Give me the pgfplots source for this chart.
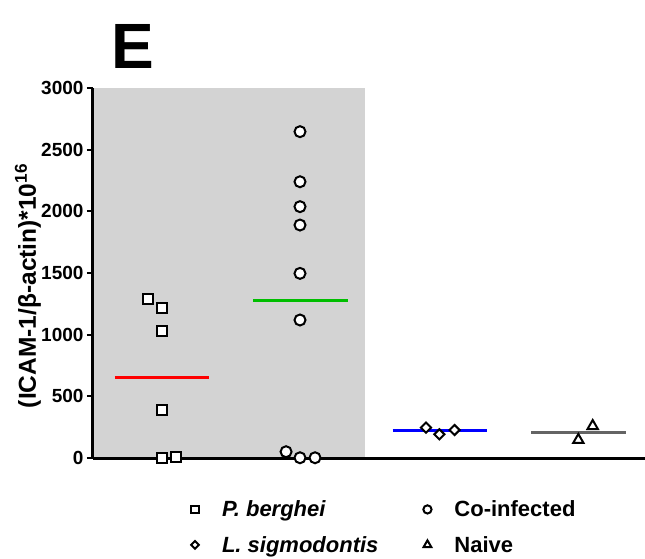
\documentclass[border=0pt]{standalone}
\usepackage{fontspec}
\setmainfont{Liberation Sans}
\usepackage{pgfplots}
\pgfplotsset{compat=1.18}
\definecolor{panelgray}{RGB}{211,211,211}
\definecolor{meangreen}{RGB}{0,190,0}
\definecolor{meangray}{RGB}{100,100,100}

\begin{document}
\begin{tikzpicture}[x=1pt,y=1pt]
\path[use as bounding box] (-93,-100) rectangle (552,458);
\begin{axis}[
  at={(0,0)}, anchor=south west,
  scale only axis, width=552pt, height=370pt,
  xmin=0.5, xmax=4.5, ymin=0, ymax=3000,
  clip=false, axis on top,
  axis x line=bottom, axis y line=left,
  every outer x axis line/.append style={-},
  every outer y axis line/.append style={-},
  axis line style={line width=3pt, black, -},
  xtick=\empty,
  ytick={0,500,...,3000},
  tick align=outside, major tick length=6pt,
  tick style={line width=2pt, black},
  y tick label style={font=\fontsize{19}{19}\selectfont\bfseries},
  /pgf/number format/assume math mode=true,
  /pgf/number format/1000 sep={},
  ylabel={(ICAM-1/β-actin)*10\textsuperscript{16}},
  ylabel style={font=\fontsize{24.5}{24.5}\selectfont\bfseries,
    at={(axis description cs:-0.118,0.465)}, anchor=center},
  legend columns=2,
  legend cell align=left,
  legend style={draw=none, fill=none, inner sep=0pt, outer sep=0pt,
    at={(axis description cs:0.1685,-0.11)}, anchor=north west,
    font=\fontsize{22}{22}\selectfont\bfseries,
    row sep=14pt,
    /tikz/every even column/.append style={column sep=38pt}},
  legend image code/.code={%
    \path (-8pt,0pt) (24pt,0pt);
    \draw[#1, every mark/.append style={scale=0.75}] plot coordinates {(0pt,0pt)};},
  every axis plot/.append style={line width=2pt},
]
% shaded panel behind the two Plasmodium groups
\addplot[fill=panelgray, draw=none, forget plot] coordinates {(0.5,3000) (2.471,3000)} \closedcycle;

% group means
\addplot[red, line width=3pt, forget plot] coordinates {(0.659,656) (1.34,656)};
\addplot[meangreen, line width=3pt, forget plot] coordinates {(1.662,1277) (2.35,1277)};
\addplot[blue, line width=3pt, forget plot] coordinates {(2.672,222) (3.353,222)};
\addplot[meangray, line width=3pt, forget plot] coordinates {(3.674,208) (4.362,208)};

% individual animals
\addplot[only marks, mark=square*, mark size=5pt, draw=black, fill=white]
  coordinates {(0.896,1287) (0.998,1219) (0.998,1030) (0.998,389) (0.998,3) (1.101,11)};
\addlegendentry{\itshape P. berghei}
\addplot[only marks, mark=*, mark size=5.5pt, draw=black, fill=white]
  coordinates {(2.0,2646) (2.0,2240) (2.0,2038) (2.0,1889) (2.0,1497) (2.0,1119) (1.899,51) (2.0,2) (2.109,2)};
\addlegendentry{Co-infected}
\addplot[only marks, mark=square*, mark size=3.6pt, mark options={rotate=45}, draw=black, fill=white]
  coordinates {(2.913,246) (3.01,192) (3.12,227)};
\addlegendentry{\itshape L. sigmodontis}
\addplot[only marks, mark=triangle*, mark size=6pt, draw=black, fill=white]
  coordinates {(4.017,146) (4.121,259)};
\addlegendentry{Naive}

\node[anchor=base west, inner sep=0pt, font=\fontsize{64}{64}\selectfont\bfseries]
  at (axis description cs:0.033,1.054) {E};
\end{axis}
\end{tikzpicture}
\end{document}
